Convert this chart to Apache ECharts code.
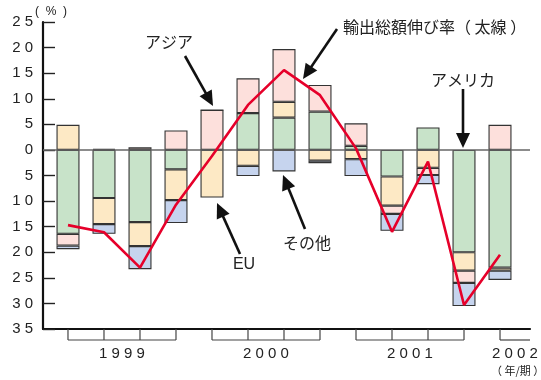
<!DOCTYPE html>
<html>
<head>
<meta charset="utf-8">
<script src="https://cdn.jsdelivr.net/npm/echarts@6/dist/echarts.min.js"></script>
<style>
  html, body { margin: 0; padding: 0; background: #fff; }
  #chart { width: 541px; height: 380px; }
</style>
</head>
<body>
<div id="chart"></div>
<script>
// Quarterly contributions to export growth by destination (percentage points), 1999Q1–2002Q1
const quarters = ['1999Q1','1999Q2','1999Q3','1999Q4','2000Q1','2000Q2','2000Q3','2000Q4','2001Q1','2001Q2','2001Q3','2001Q4','2002Q1'];
const america = [-16.4, -9.4, -14.1, -3.8, 0, 7.2, 6.3, 7.5, 0.8, -5.2, 4.4, -20.0, -23.0];
const eu      = [4.9, -5.1, -4.7, -6.0, -9.3, -3.1, 3.1, -2.1, -1.8, -5.7, -3.5, -3.6, -0.6];
const asia    = [-2.3, 0.2, 0.5, 3.8, 7.8, 6.8, 10.3, 5.2, 4.4, -1.6, -1.4, -2.4, 4.9];
const other   = [-0.7, -1.9, -4.5, -4.5, 0, -2.0, -4.2, -0.5, -3.3, -3.3, -1.8, -4.5, -1.8];
// Total export growth rate (thick line)
const total   = [-14.7, -16.1, -23.0, -10.7, -1.2, 8.8, 15.6, 10.7, 0.3, -16.0, -2.3, -30.3, -20.5];

// Year groups on the quarter axis
const yearLabels = ['1999', '2000', '2001', '2002'];
const yearFirstQ = [0, 4, 8, 12];
const yearLastQ  = [3, 7, 11, null];

const yTicks = { min: -35, max: 25, step: 5 };

// Frame axis spans a little beyond the outer quarters
const X_MIN = -0.694, X_MAX = 12.833;
const spaced = s => String(s).split('').join(' ');

const chart = echarts.init(document.getElementById('chart'), null, { renderer: 'canvas' });

const barStyle = color => ({ color: color, borderColor: '#333', borderWidth: 1.1 });

function barSeries(name, arr, color) {
  return {
    name: name, type: 'bar', stack: 'dest', data: arr,
    xAxisIndex: 0, yAxisIndex: 0,
    barWidth: 23, itemStyle: barStyle(color), silent: true, z: 2
  };
}

function arrow(x1, y1, x2, y2) {
  const dx = x2 - x1, dy = y2 - y1, L = Math.hypot(dx, dy);
  const ux = dx / L, uy = dy / L, head = 15, half = 7;
  const bx = x2 - ux * head, by = y2 - uy * head;
  return [
    { type: 'line', shape: { x1: x1, y1: y1, x2: bx + ux * 2, y2: by + uy * 2 },
      style: { stroke: '#111', lineWidth: 2.6 }, z: 20 },
    { type: 'polygon', shape: { points: [[x2, y2], [bx - uy * half, by + ux * half], [bx + uy * half, by - ux * half]] },
      style: { fill: '#111' }, z: 20 }
  ];
}

const jp = '"Noto Sans CJK JP", "Noto Sans", sans-serif';
function label(text, x, y, font, align) {
  return {
    type: 'text', x: x, y: y, z: 20,
    style: { text: text, fill: '#222', font: font || ('16px ' + jp), textAlign: align || 'center', textVerticalAlign: 'middle' }
  };
}

const graphics = [].concat(
  [label('(  %  )', 35, 12, '12px "Liberation Sans", Arial, sans-serif', 'left')],
  [label('アジア', 169, 42)], arrow(185, 56, 213, 106),
  [label('輸出総額伸び率（ 太線 ）', 343, 27, null, 'left')], arrow(337, 29, 303, 79),
  [label('アメリカ', 463, 80)], arrow(463, 89, 463, 148),
  [label('EU', 244, 265, '16px "Liberation Sans", Arial, sans-serif')], arrow(240, 254, 217, 203),
  [label('その他', 307, 243)], arrow(305, 229, 283, 175),
  [label('（ 年/期 ）', 491, 371, '11px ' + jp, 'left')]
);

const option = {
  animation: false,
  backgroundColor: '#fff',
  grid: [
    { left: 50, right: 23, top: 22, bottom: 51, containLabel: false },
    { left: 43, right: 11, top: 22, bottom: 51, containLabel: false }
  ],
  xAxis: [
    {
      gridIndex: 0, type: 'category', data: quarters, boundaryGap: true,
      axisLine: { show: false }, axisTick: { show: false }, axisLabel: { show: false }, splitLine: { show: false }
    },
    {
      gridIndex: 1, type: 'value', min: X_MIN, max: X_MAX, position: 'bottom',
      axisLine: { show: true, onZero: false, lineStyle: { color: '#111', width: 2.2 } },
      axisTick: { show: false }, axisLabel: { show: false }, splitLine: { show: false }
    }
  ],
  yAxis: [
    {
      gridIndex: 0, type: 'value', min: yTicks.min, max: yTicks.max, interval: yTicks.step, show: false
    },
    {
      gridIndex: 1, type: 'value', min: yTicks.min, max: yTicks.max, interval: yTicks.step,
      axisLine: { show: true, onZero: false, lineStyle: { color: '#111', width: 2.2 } },
      axisTick: { show: true, inside: true, length: 12, lineStyle: { color: '#222', width: 1.4 } },
      axisLabel: {
        margin: 10, color: '#222', fontSize: 15, fontFamily: '"Liberation Sans", Arial, sans-serif',
        formatter: v => spaced(Math.abs(v))
      },
      splitLine: { show: false }
    }
  ],
  series: [
    barSeries('アメリカ', america, '#c8e3c9'),
    barSeries('EU', eu, '#fde9c5'),
    barSeries('アジア', asia, '#fde0dc'),
    barSeries('その他', other, '#c6d4ee'),
    {
      name: '輸出総額伸び率', type: 'line', data: total,
      xAxisIndex: 0, yAxisIndex: 0,
      symbol: 'none', silent: true, z: 5,
      lineStyle: { color: '#e6002a', width: 2.6 }
    },
    {
      // year brackets beneath the quarter axis, plus the zero reference line
      type: 'custom', silent: true, clip: false, z: 3,
      xAxisIndex: 1, yAxisIndex: 1,
      data: yearFirstQ.map((s, i) => [s, yearLastQ[i] === null ? X_MAX : yearLastQ[i]]),
      encode: { x: [0, 1] },
      markLine: {
        silent: true, symbol: 'none', label: { show: false },
        lineStyle: { color: '#666', width: 1.5, type: 'solid' },
        data: [{ yAxis: 0 }]
      },
      renderItem: function (params, api) {
        const s = api.value(0), e = api.value(1);
        const y0 = api.coord([s, yTicks.min])[1];
        const xs = api.coord([s, yTicks.min])[0];
        const xe = api.coord([e, yTicks.min])[0];
        const h = 11;
        const children = [];
        for (let k = s; k <= Math.floor(e); k++) {
          const xk = api.coord([k, yTicks.min])[0];
          children.push({ type: 'line', shape: { x1: xk, y1: y0, x2: xk, y2: y0 + h },
            style: { stroke: '#444', lineWidth: 1.2 } });
        }
        children.push({ type: 'line', shape: { x1: xs, y1: y0 + h, x2: xe, y2: y0 + h },
          style: { stroke: '#444', lineWidth: 1.2 } });
        children.push({ type: 'text', x: (xs + xe) / 2, y: y0 + 25,
          style: { text: spaced(yearLabels[params.dataIndex]), fill: '#222',
            font: '15px "Liberation Sans", Arial, sans-serif', textAlign: 'center', textVerticalAlign: 'middle' } });
        return { type: 'group', children: children };
      }
    }
  ],
  graphic: graphics
};

chart.setOption(option);
</script>
</body>
</html>
